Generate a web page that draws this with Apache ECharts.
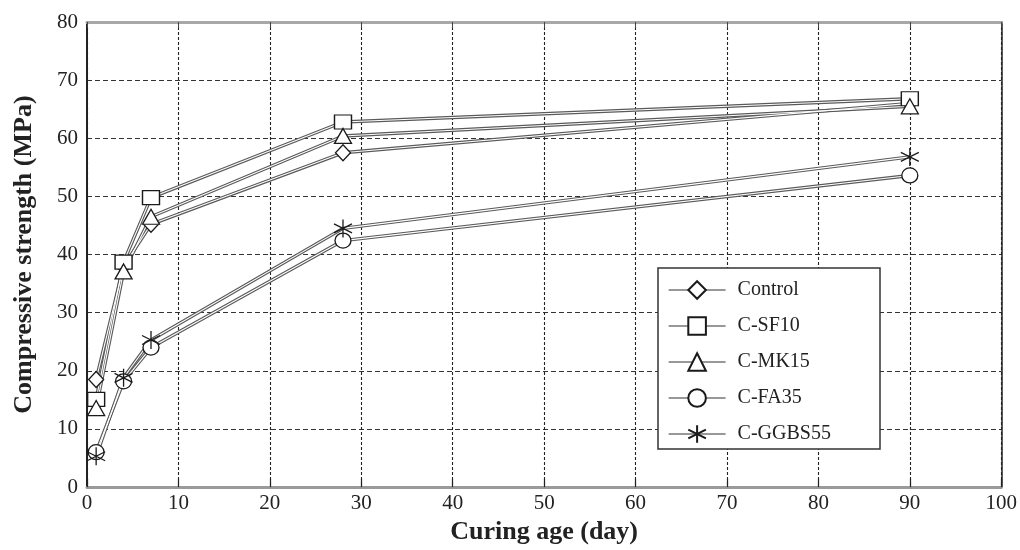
<!DOCTYPE html>
<html>
<head>
<meta charset="utf-8">
<title>Compressive strength vs curing age</title>
<script src="https://cdn.jsdelivr.net/npm/echarts@6/dist/echarts.min.js"></script>
<style>
  html, body { margin: 0; padding: 0; background: #fff; }
  #chart { width: 1020px; height: 550px; }
</style>
</head>
<body>
<div id="chart"></div>
<script>
// Curing ages (days) at which specimens were tested
const days = [1, 4, 7, 28, 90];

// Compressive strength (MPa) per mix
const control = [18.5, 38.0, 45.2, 57.5, 66.0];
const sf10    = [15.1, 38.7, 49.8, 62.8, 66.8];
const mk15    = [13.6, 37.1, 46.5, 60.4, 65.5];
const fa35    = [6.0, 18.2, 24.0, 42.4, 53.6];
const ggbs55  = [5.3, 18.8, 25.3, 44.5, 56.8];

const mixNames = ['Control', 'C-SF10', 'C-MK15', 'C-FA35', 'C-GGBS55'];
const mixValues = [control, sf10, mk15, fa35, ggbs55];

// Axis ranges and tick steps
const xTicks = { min: 0, max: 100, step: 10 };
const yTicks = { min: 0, max: 80, step: 10 };

const asterisk = 'path://M5,0L5,10M0.7,2.5L9.3,7.5M0.7,7.5L9.3,2.5';
const markers = [
  { symbol: 'diamond', size: [15, 16] },
  { symbol: 'rect', size: [17, 14] },
  { symbol: 'triangle', size: [17, 15] },
  { symbol: 'circle', size: [16, 15] },
  { symbol: asterisk, size: [18, 18] }
];

const FONT = '"Liberation Serif", "Times New Roman", serif';

function pairs(values) {
  return days.map((d, i) => [d, values[i]]);
}

const series = [];
// outlined lines: a dark stroke with a thin white core
mixValues.forEach((vals, i) => {
  series.push({
    name: mixNames[i] + ' outline',
    type: 'line',
    data: pairs(vals),
    showSymbol: false,
    symbol: 'none',
    z: 1,
    silent: true,
    lineStyle: { color: '#5a5a5a', width: 3.4 }
  });
});
mixValues.forEach((vals, i) => {
  series.push({
    name: mixNames[i] + ' core',
    type: 'line',
    data: pairs(vals),
    showSymbol: false,
    symbol: 'none',
    z: 2,
    silent: true,
    lineStyle: { color: '#ffffff', width: 1.1 }
  });
});
// open markers on top
mixValues.forEach((vals, i) => {
  series.push({
    name: mixNames[i],
    type: 'line',
    data: pairs(vals),
    symbol: markers[i].symbol,
    symbolSize: markers[i].size,
    showAllSymbol: true,
    z: 3,
    lineStyle: { opacity: 0, width: 0 },
    itemStyle: { color: '#ffffff', borderColor: '#1a1a1a', borderWidth: 1.3 }
  });
});

const chart = echarts.init(document.getElementById('chart'), null, { renderer: 'canvas' });

chart.setOption({
  animation: false,
  backgroundColor: '#ffffff',
  grid: { left: 87, right: 18, top: 22, bottom: 60 },
  xAxis: [
    {
      type: 'value',
      min: xTicks.min, max: xTicks.max, interval: xTicks.step,
      name: 'Curing age (day)',
      nameLocation: 'middle',
      nameGap: 29,
      nameTextStyle: { fontFamily: FONT, fontWeight: 'bold', fontSize: 26, color: '#222' },
      axisLine: { show: true, onZero: false, lineStyle: { color: '#9a9a9a', width: 3 } },
      axisTick: { show: true, inside: true, length: 8, lineStyle: { color: '#222', width: 1.2 } },
      axisLabel: { fontFamily: FONT, fontSize: 21, color: '#222', margin: 6 },
      splitLine: { show: true, lineStyle: { color: '#222', width: 1.1, type: [3, 2] } }
    },
    {
      type: 'value', position: 'top',
      min: xTicks.min, max: xTicks.max, interval: xTicks.step,
      axisLine: { show: true, onZero: false, lineStyle: { color: '#a8a8a8', width: 3 } },
      axisTick: { show: true, inside: true, length: 6, lineStyle: { color: '#444', width: 1 } },
      axisLabel: { show: false },
      splitLine: { show: false }
    }
  ],
  yAxis: [
    {
      type: 'value',
      min: yTicks.min, max: yTicks.max, interval: yTicks.step,
      name: 'Compressive strength (MPa)',
      nameLocation: 'middle',
      nameGap: 50,
      nameTextStyle: { fontFamily: FONT, fontWeight: 'bold', fontSize: 26, color: '#222' },
      axisLine: { show: true, onZero: false, lineStyle: { color: '#222', width: 2 } },
      axisTick: { show: false },
      axisLabel: { fontFamily: FONT, fontSize: 21, color: '#222', margin: 9 },
      splitLine: { show: true, lineStyle: { color: '#333', width: 1.2, type: [5, 3] } }
    },
    {
      type: 'value', position: 'right',
      min: yTicks.min, max: yTicks.max, interval: yTicks.step,
      axisLine: { show: true, onZero: false, lineStyle: { color: '#222', width: 1.5 } },
      axisTick: { show: false },
      axisLabel: { show: false },
      splitLine: { show: false }
    }
  ],
  legend: {
    data: mixNames,
    orient: 'vertical',
    left: 668,
    top: 279,
    padding: 0,
    itemWidth: 57,
    itemHeight: 22,
    itemGap: 14,
    selectedMode: false,
    textStyle: { fontFamily: FONT, fontSize: 20, lineHeight: 22, color: '#222', padding: [0, 0, 0, 7] },
    lineStyle: { color: '#333', width: 1.2, opacity: 1 },
    z: 5
  },
  graphic: [
    {
      type: 'rect',
      z: 4,
      shape: { x: 658, y: 268, width: 222, height: 181 },
      style: { fill: '#ffffff', stroke: '#333', lineWidth: 1.5 }
    }
  ],
  series: series
});
</script>
</body>
</html>
